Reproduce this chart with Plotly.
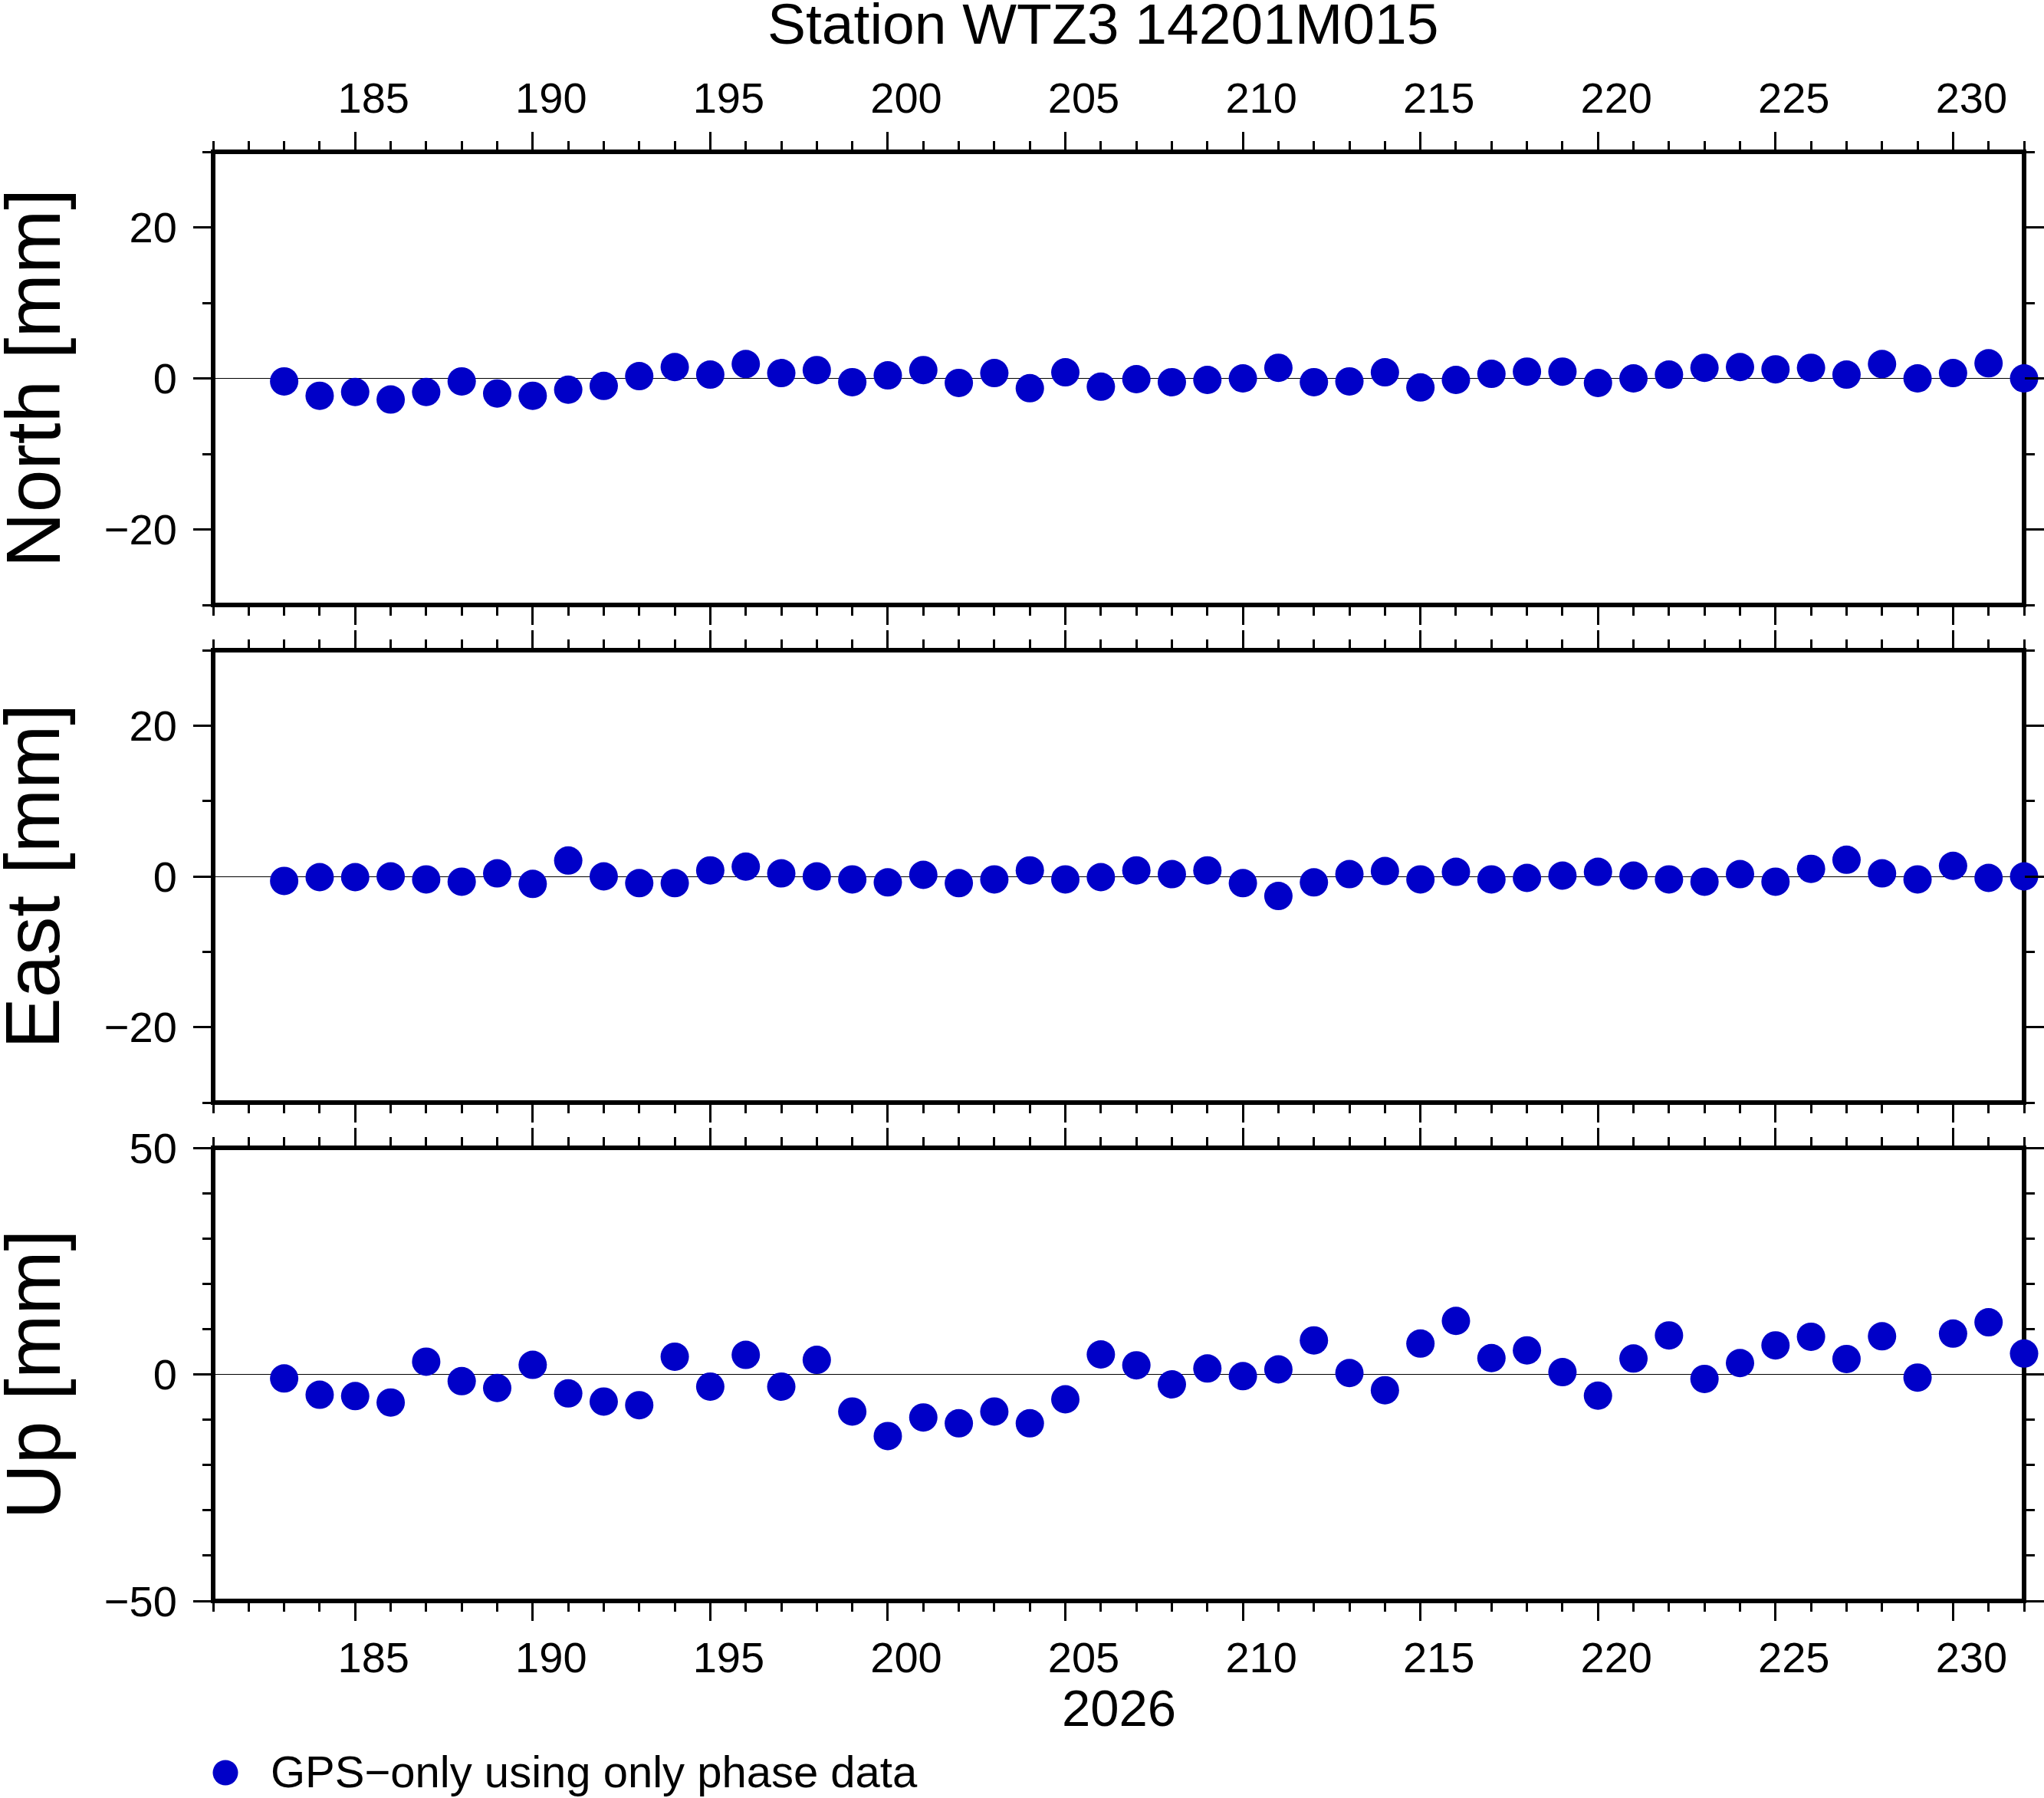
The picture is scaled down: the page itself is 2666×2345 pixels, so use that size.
import plotly.graph_objects as go

# day of year 2026
days = list(range(183, 233))

north = [-0.4, -2.3, -1.8, -2.8, -1.8, -0.4, -2.0, -2.3, -1.5, -1.0,
         0.3, 1.5, 0.5, 1.9, 0.7, 1.1, -0.5, 0.4, 1.1, -0.6,
         0.7, -1.3, 0.8, -1.1, -0.1, -0.5, -0.2, 0.0, 1.4, -0.5,
         -0.4, 0.8, -1.2, -0.2, 0.6, 0.9, 0.9, -0.6, 0.0, 0.5,
         1.4, 1.5, 1.2, 1.4, 0.5, 1.9, 0.0, 0.7, 2.0, 0.0]

east = [-0.6, -0.1, -0.1, 0.0, -0.4, -0.7, 0.4, -1.0, 2.1, 0.0,
        -0.9, -0.9, 0.8, 1.3, 0.4, 0.0, -0.4, -0.8, 0.2, -0.9,
        -0.4, 0.8, -0.4, -0.1, 0.8, 0.3, 0.8, -0.9, -2.6, -0.8,
        0.3, 0.7, -0.4, 0.6, -0.4, -0.2, 0.1, 0.6, 0.1, -0.4,
        -0.7, 0.3, -0.7, 1.0, 2.2, 0.4, -0.4, 1.4, -0.2, 0.0]

up = [-0.9, -4.5, -4.8, -6.2, 2.8, -1.5, -3.0, 2.1, -4.2, -6.0,
      -6.8, 3.9, -2.7, 4.3, -2.7, 3.2, -8.2, -13.6, -9.5, -10.8,
      -8.2, -10.8, -5.5, 4.4, 2.0, -2.2, 1.3, -0.4, 1.1, 7.5,
      0.3, -3.5, 6.8, 11.8, 3.6, 5.3, 0.5, -4.7, 3.5, 8.6,
      -1.0, 2.5, 6.4, 8.3, 3.4, 8.4, -0.7, 9.0, 11.5, 4.6]

panel_names = ["North [mm]", "East [mm]", "Up [mm]"]
legend_name = "GPS\u2212only using only phase data"
title = "Station WTZ3 14201M015"
year_label = "2026"

FONT = "Liberation Sans"
BLUE = "#0000C8"

# full page; the body margin is removed after plotting (see post_script)
W, H = 2666, 2345
L, R, T, B = 278, 2640, 198, 2088
PW, PH = R - L, B - T
panels = [(198, 789), (848, 1438), (1497, 2088)]


def xp(px):
    return (px - L) / PW


def yp(py):
    return (B - py) / PH


fig = go.Figure()

series = [north, east, up]
for i, vals in enumerate(series):
    n = "" if i == 0 else str(i + 1)
    fig.add_trace(go.Scatter(x=days, y=vals, mode="markers",
                             xaxis="x" + n, yaxis="y" + n,
                             marker=dict(size=37, color=BLUE),
                             cliponaxis=False,
                             showlegend=False, name=legend_name))

axis_common = dict(showline=False, mirror="ticks", ticks="outside",
                   tickwidth=3, tickcolor="black", ticklen=25,
                   showgrid=False, automargin=False,
                   tickfont=dict(family=FONT, size=56, color="black"))
minor_ticks = dict(ticklen=13, tickwidth=3, ticks="outside",
                   tickcolor="black")

layout = dict(width=W, height=H, paper_bgcolor="white", plot_bgcolor="white",
              margin=dict(l=L, r=W - R, t=T, b=H - B, pad=0,
                          autoexpand=False),
              font=dict(family=FONT, color="black"), showlegend=False)

shapes = []
for i in range(3):
    n = "" if i == 0 else str(i + 1)
    top, bot = panels[i]
    dom = [yp(bot), yp(top)]
    xa = dict(axis_common, range=[181, 232], dtick=5, tick0=0,
              minor=dict(minor_ticks, dtick=1),
              anchor="y" + n, zeroline=False, ticklabelshift=24)
    if i == 0:
        xa["side"] = "top"
        xa["ticklabelstandoff"] = 3
    elif i == 1:
        xa["showticklabels"] = False
    else:
        xa["side"] = "bottom"
        xa["ticklabelstandoff"] = 0
    if i > 0:
        xa["matches"] = "x"
    lim = 50 if i == 2 else 30
    ya = dict(axis_common, range=[-lim, lim], dtick=50 if i == 2 else 20,
              tick0=0, domain=dom, anchor="x" + n,
              minor=dict(minor_ticks, dtick=10),
              zeroline=True, zerolinecolor="black", zerolinewidth=1,
              ticklabelstandoff=10)
    layout["xaxis" + n] = xa
    layout["yaxis" + n] = ya
    # panel frame, centred on the plot edges
    shapes.append(dict(type="rect", xref="paper", yref="paper", layer="below",
                       x0=0, x1=1, y0=dom[0], y1=dom[1],
                       line=dict(color="black", width=6)))

annotations = [
    dict(text=title, x=xp(1438), y=yp(31), xref="paper", yref="paper",
         xanchor="center", yanchor="middle", showarrow=False,
         font=dict(family=FONT, size=75, color="black")),
    dict(text=year_label, x=xp(1459), y=yp(2227), xref="paper", yref="paper",
         xanchor="center", yanchor="middle", showarrow=False,
         font=dict(family=FONT, size=67, color="black")),
    dict(text=legend_name, x=xp(351), y=yp(2310), xref="paper", yref="paper",
         xanchor="left", yanchor="middle", showarrow=False,
         font=dict(family=FONT, size=58, color="black")),
]
for i, name in enumerate(panel_names):
    top, bot = panels[i]
    annotations.append(dict(text=name, x=xp(42), y=yp((top + bot) / 2),
                            xref="paper", yref="paper", textangle=-90,
                            xanchor="center", yanchor="middle",
                            showarrow=False,
                            font=dict(family=FONT, size=100, color="black")))
layout["annotations"] = annotations

# legend symbol
r = 16.5
shapes.append(dict(type="circle", xref="paper", yref="paper",
                   x0=xp(294 - r), x1=xp(294 + r),
                   y0=yp(2312 + r), y1=yp(2312 - r),
                   fillcolor=BLUE, line=dict(width=0)))
layout["shapes"] = shapes

fig.update_layout(**layout)
fig.write_html("out.html", config={"displayModeBar": False},
               post_script="document.body.style.margin='0';"
                           "document.body.style.overflow='hidden';")
